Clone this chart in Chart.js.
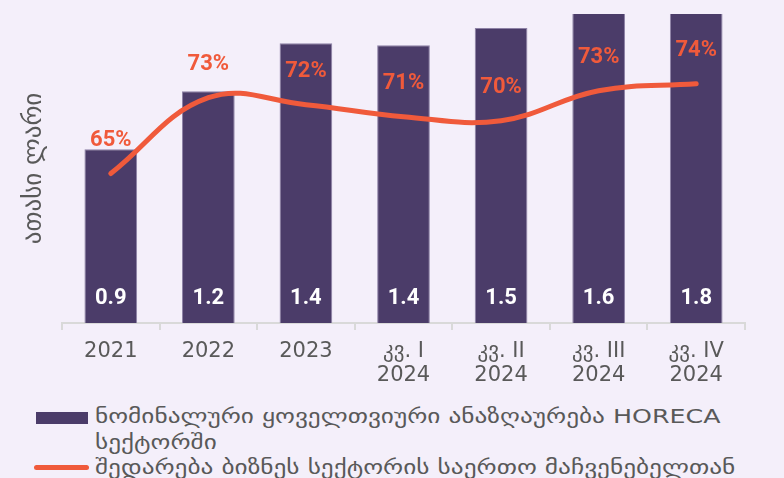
<!DOCTYPE html>
<html><head><meta charset="utf-8">
<script src="https://cdn.jsdelivr.net/npm/chart.js@4"></script>
<style>
html,body{margin:0;padding:0;background:#F4EFFA;}
#wrap{position:relative;width:784px;height:478px;overflow:hidden;background:#F4EFFA;}
#c{position:absolute;left:0;top:0;}
#legend{position:absolute;left:0;top:404px;font-family:"DejaVu Sans",sans-serif;font-size:20px;color:#595959;}
.item{position:relative;height:auto;}
.sw{position:absolute;}
.txt{position:relative;left:95px;width:570px;line-height:25.5px;transform:scaleX(1.265);transform-origin:0 0;}
</style></head><body>
<div id="wrap"><canvas id="c" width="784" height="395" style="width:784px;height:395px"></canvas><div id="legend"></div></div>
<script>
const categories = [["2021"], ["2022"], ["2023"], ["კვ. I", "2024"], ["კვ. II", "2024"], ["კვ. III", "2024"], ["კვ. IV", "2024"]];
const wageValues = [0.9, 1.2, 1.448, 1.438, 1.528, 1.62, 1.8];
const shareValues = [65.0, 72.6, 71.9, 70.7, 70.3, 73.3, 74.0];
const wageLabel = "ნომინალური ყოველთვიური ანაზღაურება HORECA სექტორში";
const shareLabel = "შედარება ბიზნეს სექტორის საერთო მაჩვენებელთან";
const yTitle = "ათასი ლარი";

const BAR = "#4B3C69", ORANGE = "#F05A3B", GREY = "#595959", AXIS = "#D9D9D9";

const labelPlugin = {
  id: "valueLabels",
  afterDatasetsDraw(chart) {
    const ctx = chart.ctx;
    ctx.save();
    ctx.textAlign = "center";
    ctx.textBaseline = "middle";
    const barMeta = chart.getDatasetMeta(0);
    const bottom = chart.chartArea.bottom;
    ctx.font = "bold 22px Roboto";
    ctx.fillStyle = "#FFFFFF";
    barMeta.data.forEach((el, i) => {
      ctx.fillText(wageValues[i].toFixed(1), el.x, bottom - 25);
    });
    const lineMeta = chart.getDatasetMeta(1);
    ctx.fillStyle = ORANGE;
    lineMeta.data.forEach((el, i) => {
      ctx.fillText(Math.round(shareValues[i]) + "%", el.x, el.y - 33);
    });
    ctx.restore();
  }
};

const chart = new Chart(document.getElementById("c"), {
  data: {
    labels: categories,
    datasets: [
      { type: "bar", label: wageLabel, data: wageValues, backgroundColor: BAR, borderColor: "#8E82A6", borderWidth: {left:1,right:1,top:1,bottom:0}, borderSkipped: "bottom", yAxisID: "y", order: 2, categoryPercentage: 1.0, barPercentage: 0.54 },
      { type: "line", label: shareLabel, data: shareValues, borderColor: ORANGE, borderWidth: 5, tension: 0.4, pointRadius: 0, borderCapStyle: "round", yAxisID: "y2", order: 1 }
    ]
  },
  options: {
    responsive: false,
    animation: false,
    layout: { padding: { top: 14, right: 39, left: 0, bottom: 0 } },
    plugins: { legend: { display: false }, tooltip: { enabled: false } },
    scales: {
      x: {
        offset: true,
        grid: { offset: true, display: true, drawOnChartArea: false, drawTicks: true, tickLength: 7, color: AXIS, lineWidth: 2 },
        border: { display: true, color: AXIS, width: 2 },
        ticks: { color: GREY, font: { family: "DejaVu Sans", size: 21, lineHeight: 1.15 }, padding: 9, maxRotation: 0, autoSkip: false },
        afterFit(s) { s.height = 72; }
      },
      y: {
        min: 0, max: 1.6,
        grid: { display: false },
        border: { display: false },
        ticks: { display: false },
        title: { display: true, text: yTitle, color: GREY, font: { family: "DejaVu Sans", size: 25 }, padding: { top: 19, bottom: 0 } },
        afterFit(s) { s.width = 62; }
      },
      y2: { display: false, min: 50, max: 81 }
    }
  },
  plugins: [labelPlugin]
});

// HTML legend built from datasets
const legend = document.getElementById("legend");
chart.data.datasets.forEach((ds, i) => {
  const item = document.createElement("div");
  item.className = "item";
  const sw = document.createElement("span");
  sw.className = "sw";
  if (ds.type === "bar") {
    Object.assign(sw.style, { left: "36px", top: "8px", width: "52px", height: "12px", background: ds.backgroundColor });
  } else {
    Object.assign(sw.style, { left: "34px", top: "10px", width: "55px", height: "5px", borderRadius: "3px", background: ds.borderColor });
  }
  const txt = document.createElement("div");
  txt.className = "txt";
  txt.textContent = ds.label;
  item.appendChild(sw);
  item.appendChild(txt);
  legend.appendChild(item);
});
</script>
</body></html>
